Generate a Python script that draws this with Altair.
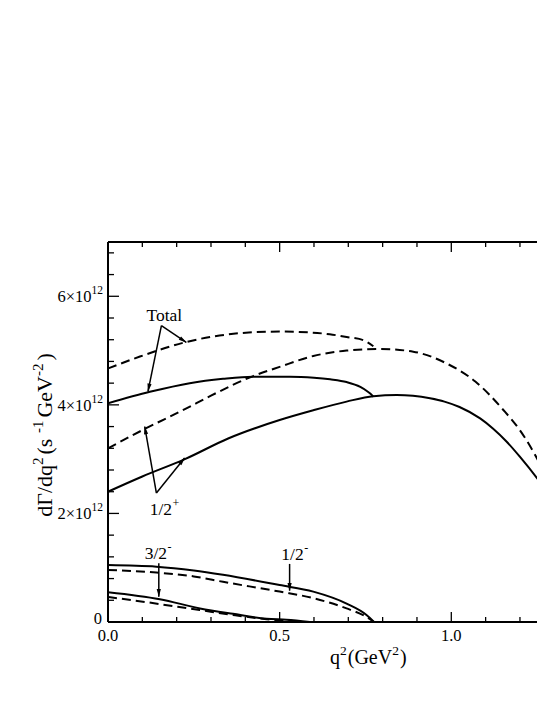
import math
import altair as alt
import pandas as pd

# ---------------- data (y in units of 1e12 s^-1 GeV^-2, x = q^2 in GeV^2) ----------------
TOT_DASH_X = [0.0, 0.093, 0.229, 0.384, 0.5, 0.597, 0.646, 0.695, 0.744, 0.773]
TOT_DASH_Y = [4.67, 4.89, 5.16, 5.32, 5.35, 5.33, 5.30, 5.25, 5.19, 5.08]

TOT_SOLID_X = [0.0, 0.122, 0.238, 0.335, 0.423, 0.53, 0.6, 0.647, 0.695, 0.735, 0.755, 0.767, 0.773]
TOT_SOLID_Y = [4.03, 4.24, 4.40, 4.48, 4.52, 4.52, 4.50, 4.47, 4.42, 4.33, 4.25, 4.19, 4.15]

HP_DASH_X = [0.0, 0.102, 0.224, 0.3, 0.423, 0.5, 0.598, 0.695, 0.792, 0.889, 0.987, 1.07, 1.151, 1.199, 1.219, 1.268, 1.28]
HP_DASH_Y = [3.20, 3.54, 3.92, 4.17, 4.53, 4.70, 4.90, 5.00, 5.03, 4.98, 4.76, 4.43, 3.91, 3.54, 3.35, 2.80, 2.66]

HP_SOLID_X = [0.0, 0.1, 0.224, 0.35, 0.5, 0.598, 0.695, 0.773, 0.841, 0.938, 0.98, 1.024, 1.084, 1.122, 1.16, 1.199, 1.268, 1.28]
HP_SOLID_Y = [2.40, 2.68, 3.00, 3.38, 3.72, 3.90, 4.06, 4.16, 4.18, 4.12, 4.06, 3.96, 3.75, 3.56, 3.33, 3.05, 2.49, 2.38]

HM_SOLID_X = [0.0, 0.141, 0.25, 0.335, 0.5, 0.598, 0.695, 0.753, 0.775]
HM_SOLID_Y = [1.05, 1.02, 0.95, 0.87, 0.68, 0.56, 0.34, 0.13, 0.0]

HM_DASH_X = [0.0, 0.141, 0.25, 0.335, 0.5, 0.598, 0.695, 0.745, 0.775]
HM_DASH_Y = [0.96, 0.91, 0.84, 0.74, 0.56, 0.44, 0.25, 0.12, 0.0]

TH_SOLID_X = [0.0, 0.151, 0.268, 0.364, 0.462, 0.52, 0.588]
TH_SOLID_Y = [0.55, 0.42, 0.25, 0.15, 0.06, 0.04, 0.0]

TH_DASH_X = [0.0, 0.073, 0.267, 0.364, 0.462, 0.55]
TH_DASH_Y = [0.46, 0.40, 0.22, 0.13, 0.05, 0.0]

# ticks and labels
X_TICK_MAJOR = [0.0, 0.5, 1.0]
X_TICK_MINOR = [0.1, 0.2, 0.3, 0.4, 0.6, 0.7, 0.8, 0.9, 1.1, 1.2]
X_TICK_LABELS = ["0.0", "0.5", "1.0"]
Y_TICK_MAJOR = [0, 2, 4, 6]
Y_TICK_MINOR = [0.4, 0.8, 1.2, 1.6, 2.4, 2.8, 3.2, 3.6, 4.4, 4.8, 5.2, 5.6, 6.4, 6.8]
Y_TICK_LABELS = ["0", "2×10", "4×10", "6×10"]
Y_TICK_SUPS = ["", "12", "12", "12"]

# annotations (data coordinates: left end / baseline of label)
ANN_TEXT = ["Total", "1/2", "3/2", "1/2"]
ANN_SUP = ["", "+", "-", "-"]
ANN_X = [0.112, 0.1215, 0.107, 0.505]
ANN_Y = [5.55, 1.97, 1.155, 1.14]

ARROW_X1 = [0.1556, 0.1556, 0.141, 0.141, 0.148, 0.529]
ARROW_Y1 = [5.46, 5.46, 2.375, 2.375, 1.083, 1.07]
ARROW_X2 = [0.1165, 0.228, 0.107, 0.223, 0.148, 0.529]
ARROW_Y2 = [4.25, 5.15, 3.60, 3.02, 0.467, 0.577]

X_TITLE = [("q", False), ("2", True), ("(GeV", False), ("2", True), (")", False)]
Y_TITLE = [("dΓ/dq", False), ("2", True), (" (s", False), ("-1", True),
           ("GeV", False), ("-2", True), (")", False)]

# ---------------- layout ----------------
W, H = 429, 380
PX_X = 343.3
XMAX = W / PX_X
YMAX = 7.0
PX_Y = H / YMAX
FONT = "Liberation Serif"

TIMES = {'d': 500, 'Γ': 578, '/': 278, 'q': 500, ' ': 250, '(': 333, 's': 389, '-': 333,
         '1': 500, '2': 500, '3': 500, '4': 500, '5': 500, '6': 500, '0': 500, '.': 250,
         'G': 722, 'e': 444, 'V': 722, ')': 333, '×': 564, 'T': 611, 'o': 500, 't': 278,
         'a': 444, 'l': 278, '+': 564}


def tw(text, fs):
    return sum(TIMES.get(c, 500) for c in text) * fs / 1000.0


def px2x(px):
    return px / PX_X


def py2y(py):
    return YMAX - py / PX_Y


texts = []


def add_text(t, px, py, fs, ang=0):
    texts.append({"t": t, "x": px2x(px), "y": py2y(py), "fs": fs, "ang": ang})


# x tick labels
for v, lab in zip(X_TICK_MAJOR, X_TICK_LABELS):
    add_text(lab, v * PX_X - tw(lab, 16.5) / 2, H + 19, 16.5)

# y tick labels
for v, lab, sup in zip(Y_TICK_MAJOR, Y_TICK_LABELS, Y_TICK_SUPS):
    ty = (YMAX - v) * PX_Y
    if sup:
        sx = -5 - tw(sup, 11.5)
        add_text(sup, sx, ty - 2, 11.5)
        add_text(lab, sx - tw(lab, 16.5), ty + 6, 16.5)
    else:
        add_text(lab, -6 - tw(lab, 16.5), ty + 2, 16.5)

# annotations
for t, s, ax, ay in zip(ANN_TEXT, ANN_SUP, ANN_X, ANN_Y):
    px, py = ax * PX_X, (YMAX - ay) * PX_Y
    add_text(t, px, py, 17.5)
    if s:
        add_text(s, px + tw(t, 17.5) + 0.5, py - 8, 12)

# x title
pos = 330 - 108
for seg, sup in X_TITLE:
    fs = 13.5 if sup else 20
    add_text(seg, pos, (664 - 242) - (9 if sup else 0), fs)
    pos += tw(seg, fs) + (1 if sup else 0)

# y title (rotated)
segs = [(s, sup, 15 if sup else 22) for s, sup in Y_TITLE]
total = sum(tw(s, fs) + (3 if sup else 0) for s, sup, fs in segs)
start = (435 - 242) + total / 2
pos = 0
for s, sup, fs in segs:
    add_text(s, (52 - 108) - (9 if sup else 0), start - pos, fs, 270)
    pos += tw(s, fs) + (3 if sup else 0)

text_df = pd.DataFrame(texts)

xs = alt.Scale(domain=[0, XMAX], nice=False, zero=False)
ys = alt.Scale(domain=[0, YMAX], nice=False, zero=False)


def curves(items):
    rows = []
    for name, xv, yv in items:
        for i, (a, b) in enumerate(zip(xv, yv)):
            rows.append({"c": name, "i": i, "x": a, "y": b})
    return pd.DataFrame(rows)


solid_df = curves([("tot", TOT_SOLID_X, TOT_SOLID_Y), ("hp", HP_SOLID_X, HP_SOLID_Y),
                   ("hm", HM_SOLID_X, HM_SOLID_Y), ("th", TH_SOLID_X, TH_SOLID_Y)])
dash_df = curves([("tot", TOT_DASH_X, TOT_DASH_Y), ("hp", HP_DASH_X, HP_DASH_Y),
                  ("hm", HM_DASH_X, HM_DASH_Y), ("th", TH_DASH_X, TH_DASH_Y)])

enc = dict(x=alt.X("x:Q", scale=xs, axis=None), y=alt.Y("y:Q", scale=ys, axis=None),
           detail="c:N", order="i:Q")
solid = alt.Chart(solid_df).mark_line(color="black", strokeWidth=2, clip=True,
                                      interpolate="monotone").encode(**enc)
dashed = alt.Chart(dash_df).mark_line(color="black", strokeWidth=2, strokeDash=[9, 5],
                                      clip=True, interpolate="monotone").encode(**enc)

# arrows
arr_df = pd.DataFrame({"x": ARROW_X1, "y": ARROW_Y1, "x2": ARROW_X2, "y2": ARROW_Y2})
heads = []
for x1, y1, x2, y2 in zip(ARROW_X1, ARROW_Y1, ARROW_X2, ARROW_Y2):
    dx = (x2 - x1) * PX_X
    dy = -(y2 - y1) * PX_Y
    L = math.hypot(dx, dy)
    ux, uy = dx / L, dy / L
    ang = math.degrees(math.atan2(dx, -dy)) % 360
    cpx = x2 * PX_X - ux * 3.5
    cpy = (YMAX - y2) * PX_Y - uy * 3.5
    heads.append({"x": px2x(cpx), "y": py2y(cpy), "ang": ang})
head_df = pd.DataFrame(heads)

arrows = alt.Chart(arr_df).mark_rule(color="black", strokeWidth=1.5).encode(
    x=alt.X("x:Q", scale=xs, axis=None), y=alt.Y("y:Q", scale=ys, axis=None),
    x2="x2:Q", y2="y2:Q")
arrowheads = alt.Chart(head_df).mark_point(
    shape="M0,-1L0.5,1L-0.5,1Z", filled=True, size=70, color="black", opacity=1,
    strokeWidth=0).encode(
    x=alt.X("x:Q", scale=xs, axis=None), y=alt.Y("y:Q", scale=ys, axis=None),
    angle=alt.Angle("ang:Q", scale=None, legend=None))

# frame
one = pd.DataFrame({"a": [0]})
frame_left = alt.Chart(one).mark_rule(color="black", strokeWidth=2).encode(
    x=alt.value(0), y=alt.value(0), y2=alt.value(H))
frame_bottom = alt.Chart(one).mark_rule(color="black", strokeWidth=2).encode(
    x=alt.value(0), x2=alt.value(W), y=alt.value(H))
frame_top = alt.Chart(one).mark_rule(color="black", strokeWidth=2).encode(
    x=alt.value(0), x2=alt.value(W), y=alt.value(0))

xmaj = pd.DataFrame({"v": X_TICK_MAJOR})
xmin = pd.DataFrame({"v": X_TICK_MINOR})
ymaj = pd.DataFrame({"v": Y_TICK_MAJOR})
ymin = pd.DataFrame({"v": Y_TICK_MINOR})


def xticks(df, y0, y1):
    return alt.Chart(df).mark_rule(color="black", strokeWidth=1.3).encode(
        x=alt.X("v:Q", scale=xs, axis=None), y=alt.value(y0), y2=alt.value(y1))


def yticks(df, length):
    return alt.Chart(df).mark_rule(color="black", strokeWidth=1.3).encode(
        y=alt.Y("v:Q", scale=ys, axis=None), x=alt.value(0), x2=alt.value(length))


ticks = [xticks(xmaj, H, H - 10), xticks(xmin, H, H - 5),
         xticks(xmaj, 0, 10), xticks(xmin, 0, 5),
         yticks(ymaj, 11), yticks(ymin, 6)]

labels = alt.Chart(text_df).mark_text(align="left", baseline="alphabetic", font=FONT,
                                      color="black").encode(
    x=alt.X("x:Q", scale=xs, axis=None), y=alt.Y("y:Q", scale=ys, axis=None),
    text="t:N", size=alt.Size("fs:Q", scale=None, legend=None),
    angle=alt.Angle("ang:Q", scale=None, legend=None))

chart = alt.layer(dashed, solid, arrows, arrowheads, frame_left, frame_bottom, frame_top,
                  *ticks, labels).properties(
    width=W, height=H,
    padding={"left": 100, "top": 234, "right": 0, "bottom": 60},
    autosize=alt.AutoSizeParams(type="none"),
    background="white",
).configure_view(stroke=None)

chart.save("out.html", embed_options={"renderer": "svg", "actions": False})
